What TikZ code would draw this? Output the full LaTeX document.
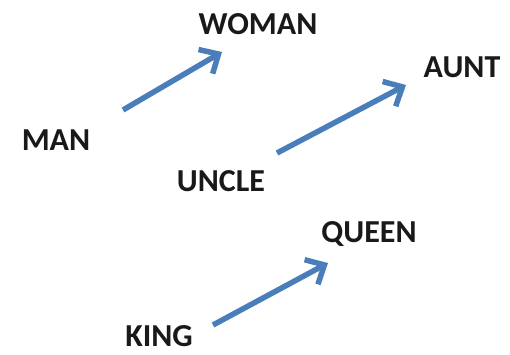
\documentclass[tikz,border=0pt]{standalone}
\usepackage{fontspec}
\setmainfont{Carlito}
\usetikzlibrary{arrows.meta}
\definecolor{arrowblue}{HTML}{4A7EBB}
\begin{document}
\begin{tikzpicture}[x=1pt,y=-1pt,
  word/.style={font=\fontsize{32}{34}\selectfont\bfseries, text=black!90, inner sep=0pt},
  vec/.style={draw=arrowblue, line width=5.5pt, -{Straight Barb[length=15pt,width=28pt,line width=5.5pt]}}]
\useasboundingbox (0,0) rectangle (510,355);
\node[word] (woman) at (258,24) {WOMAN};
\node[word] (aunt) at (462,67) {AUNT};
\node[word] (man) at (56,140) {MAN};
\node[word] (uncle) at (221,181) {UNCLE};
\node[word] (queen) at (369,234) {QUEEN};
\node[word] (king) at (159,336) {KING};
\coordinate (t1) at (123,110); \coordinate (h1) at (222,52);
\coordinate (t2) at (277,153); \coordinate (h2) at (406,85);
\coordinate (t3) at (213,325); \coordinate (h3) at (328,263);
\draw[vec] (t1) -- (h1);
\draw[vec] (t2) -- (h2);
\draw[vec] (t3) -- (h3);
\end{tikzpicture}
\end{document}
